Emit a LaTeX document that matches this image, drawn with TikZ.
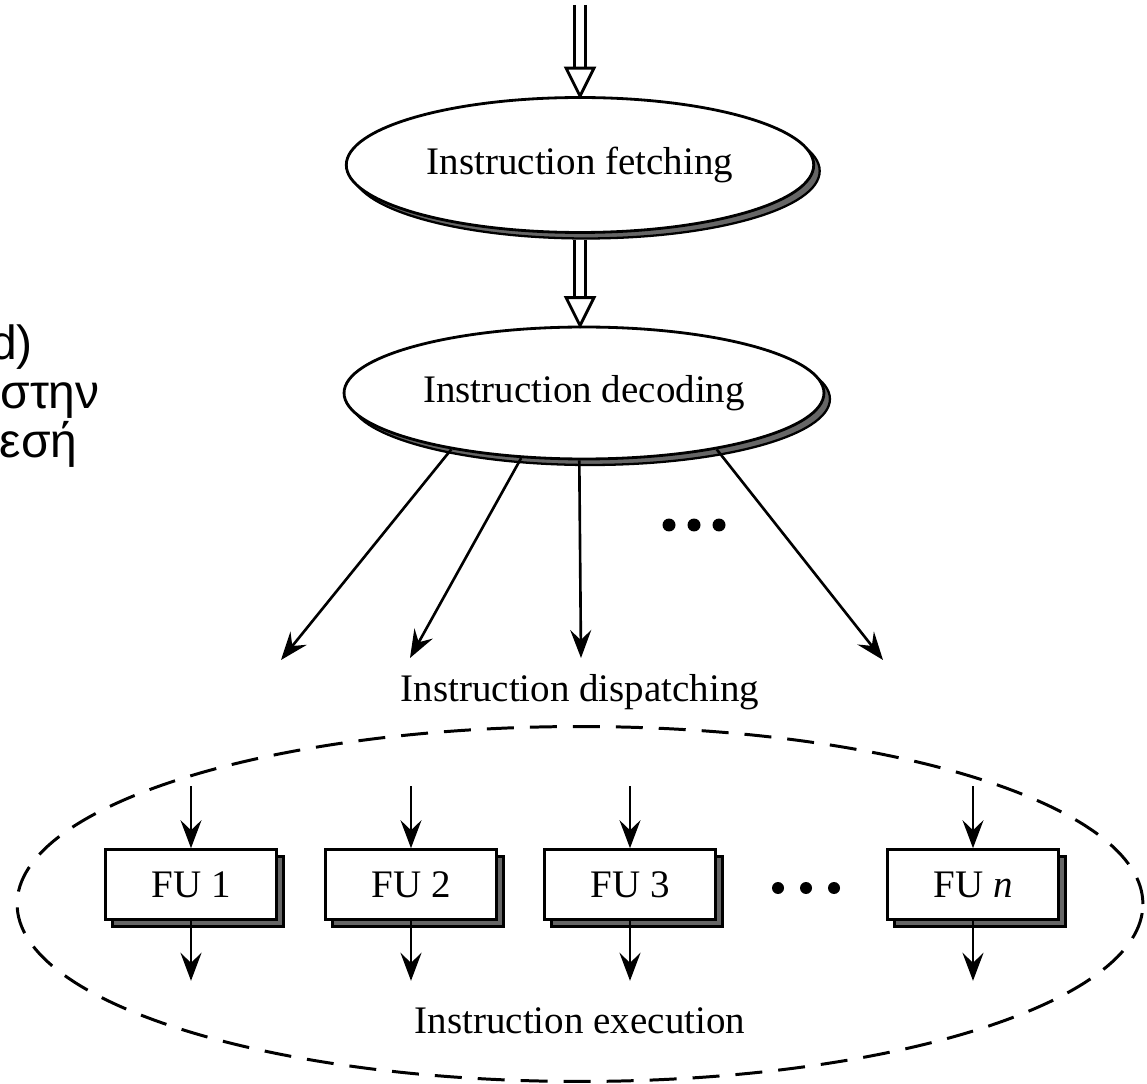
\documentclass[tikz,border=0pt]{standalone}
\usepackage{fontspec}
\setmainfont{Liberation Serif}
\newfontfamily\greekfont{Liberation Sans}
\usetikzlibrary{arrows.meta,shapes.geometric,shadows,calc}
\begin{document}
\begin{tikzpicture}[x=0.02cm,y=-0.02cm,
  txt/.style={font=\fontsize{22.2}{26}\selectfont},
  greektxt/.style={font=\greekfont\fontsize{27.3}{32}\selectfont, inner sep=0pt},
  oval/.style={ellipse, draw, line width=1.6pt, fill=white, inner sep=0pt, txt,
     copy shadow={shadow xshift=0.12cm, shadow yshift=-0.12cm, fill=black!60, draw=black, line width=1.3pt}},
  fubox/.style={rectangle, draw, line width=1.5pt, fill=white, inner sep=0pt,
     minimum width=3.42cm, minimum height=1.4cm, txt,
     copy shadow={shadow xshift=0.14cm, shadow yshift=-0.14cm, fill=black!60, draw=black, line width=1.3pt}},
  arr/.style={line width=1.5pt, -{Stealth[length=0.56cm,width=0.42cm,inset=0.2cm]}},
  hollowline/.style={line width=1.6pt},
  bigdot/.style={circle, fill=black, inner sep=0pt, minimum size=0.26cm},
  execoval/.style={ellipse, draw, line width=1.7pt, dash pattern=on 0.54cm off 0.32cm, inner sep=0pt},
]
\useasboundingbox (0,0) rectangle (1147,1084);
\fill[white] (0,0) rectangle (1147,1084);

% Greek text cut at the left border
\begin{scope}
\clip (0,0) rectangle (1147,1084);
\node[greektxt, anchor=base east] (g1) at (33,360) {d)};
\node[greektxt, anchor=base east] (g2) at (100,409) {στην};
\node[greektxt, anchor=base east] (g3) at (78,458) {λεσή};
\end{scope}

% ovals
\node[oval, minimum width=9.35cm, minimum height=2.7cm] (fetch) at (580,165) {Instruction fetching};
\node[oval, minimum width=9.6cm, minimum height=2.64cm] (decode) at (584,393) {Instruction decoding};

% hollow double arrow on top
\coordinate (src) at (580,5);
\draw[hollowline] ($(src)+(-5.5,0)$) -- ($(fetch.north)+(-5.5,-28)$);
\draw[hollowline] ($(src)+(5.5,0)$) -- ($(fetch.north)+(5.5,-28)$);
\draw[hollowline, fill=white, line join=miter] ($(fetch.north)+(-14,-28)$) -- ($(fetch.north)+(14,-28)$) -- (fetch.north) -- cycle;

% hollow double arrow fetch -> decode
\coordinate (ftip) at (fetch.south |- decode.north);
\draw[hollowline] ($(fetch.south)+(-5.5,6)$) -- ($(ftip)+(-5.5,-28)$);
\draw[hollowline] ($(fetch.south)+(5.5,6)$) -- ($(ftip)+(5.5,-28)$);
\draw[hollowline, fill=white, line join=miter] ($(ftip)+(-14,-28)$) -- ($(ftip)+(14,-28)$) -- (ftip) -- cycle;

% dispatch arrows
\coordinate (d1) at (281,660);
\coordinate (d2) at (410,658);
\coordinate (d3) at (581,658);
\coordinate (d4) at (883,660);
\draw[arr] (decode.203) -- (d1);
\draw[arr] (decode.226) -- (d2);
\draw[arr] (decode.266) -- (d3);
\draw[arr] (decode.337) -- (d4);
\node[bigdot] (u1) at (669,525) {};
\node[bigdot] (u2) at (694,525) {};
\node[bigdot] (u3) at (719,525) {};

\node[txt, anchor=base, inner sep=0pt] (disp) at (580,702) {Instruction dispatching};

% execution region
\node[execoval, minimum width=22.52cm, minimum height=7.1cm] (exec) at (580,904) {};
\node[txt, anchor=base, inner sep=0pt] (execlbl) at (580,1033) {Instruction execution};

\node[fubox] (fu1) at (191,884.5) {FU 1};
\node[fubox] (fu2) at (411,884.5) {FU 2};
\node[fubox] (fu3) at (630,884.5) {FU 3};
\node[fubox] (fun) at (973,884.5) {FU \textit{n}};

\foreach \f in {fu1,fu2,fu3,fun}{
  \coordinate (\f in) at ($(\f.north)+(0,-62)$);
  \coordinate (\f out) at ($(\f.south)+(0,60)$);
  \draw[arr] (\f in) -- (\f.north);
  \draw[arr] (\f.south) -- (\f out);
}
\node[bigdot, minimum size=0.24cm] (b1) at (778,888) {};
\node[bigdot, minimum size=0.24cm] (b2) at (806,888) {};
\node[bigdot, minimum size=0.24cm] (b3) at (834,888) {};
\end{tikzpicture}
\end{document}
